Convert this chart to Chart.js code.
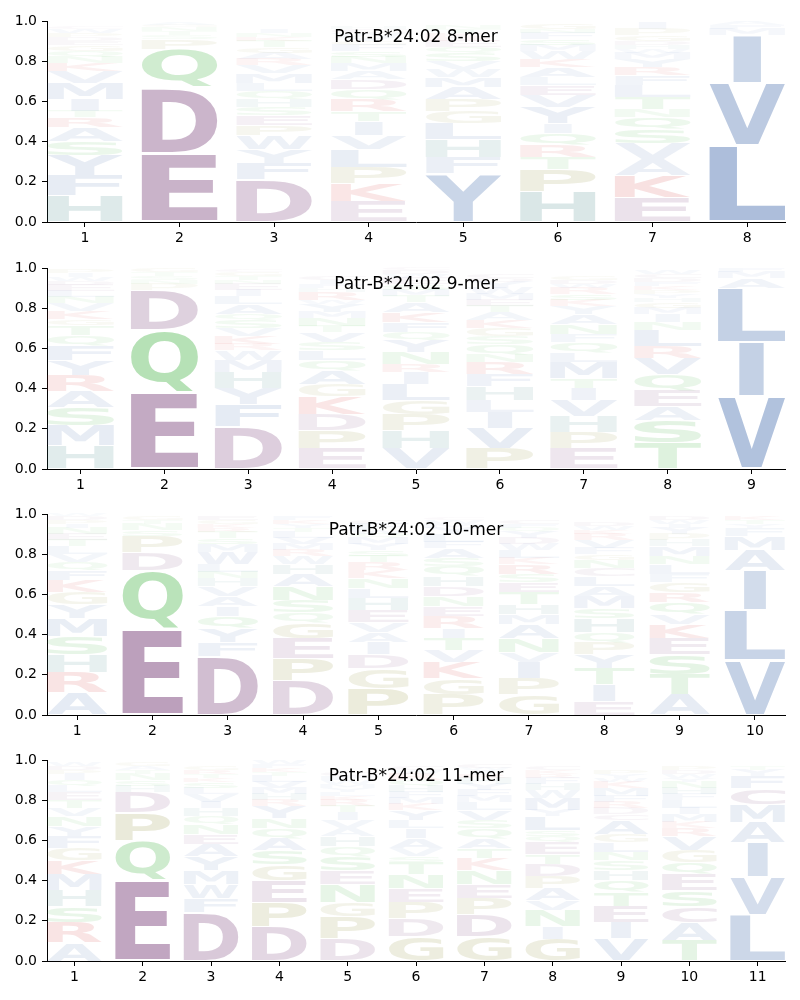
<!DOCTYPE html>
<html>
<head>
<meta charset="utf-8">
<script src="https://cdn.jsdelivr.net/npm/chart.js@4.4.1/dist/chart.umd.min.js"></script>
<style>
    body { margin: 0; background: #fff; }
    canvas { position: absolute; left: 0; }
</style>
</head>
<body>
<canvas id="logo8" width="800" height="246" style="top:0px"></canvas>
<canvas id="logo9" width="800" height="246" style="top:247px"></canvas>
<canvas id="logo10" width="800" height="246" style="top:493px"></canvas>
<canvas id="logo11" width="800" height="246" style="top:739px"></canvas>
<script>
// letter + percent, stacked bottom to top, one string per position
const titles = ['Patr-B*24:02 8-mer', 'Patr-B*24:02 9-mer', 'Patr-B*24:02 10-mer', 'Patr-B*24:02 11-mer'];
const yTicks = [0, 0.2, 0.4, 0.6, 0.8, 1.0];

const mer8 = [
    'H13 F10 Y10 S7 A7 R5 T3 I6 M8 V6 K4 N3 Q3 G3 E2 D2 P2 W2 C1',
    'E34 D33 Q19 P5 S2 T2 N2 G1 A1',
    'D21 F8 Y7 W7 P5 E5 S4 H4 Q4 L4 M5 V4 R3 A3 G3 T3 K2 N2 I2',
    'E10 K9 P8 L9 V7 I7 T5 R6 Q5 D5 A4 M4 N3 S3 F3 G2 Y2 W2 C2 H1',
    'Y24 F8 H9 L8 G6 P6 A6 M5 W4 V4 S4 Q3 E3 R2 K2 T2 N2',
    'H15 P11 T6 R6 Q6 I5 Y8 V6 E5 L4 A5 K4 W4 M3 S3 F3 N2 G3',
    'E12 K11 A8 V8 S7 Q6 N4 T6 L6 F5 R4 Y4 M3 W2 H2 D2 G3 P3 I3',
    'L38 V31 I24 M3 F2 A2'
];
const mer9 = [
    'H11.5 M10 S9 A8 R8 Y7.5 F7.5 Q5 T5 G3 K4 V4 N3 L3 E3 D2 W2 I2 P2',
    'E38 Q31 D20 P3 N2 S2 T2 G2',
    'D21 F11 Y8 H8 M6 W5 R3 K4 V4 S4 Q3 A5 L4 I3 E3 N2 T2 G2 C1',
    'E10 P9 D8 K9 G6 A7 Q5 L5 S4 V5 T3 N4 M3 Y4 W2 R4 H2 F2 I2 C2',
    'V10 H9 P8 G7 L8 I6 R4 N6 Y6 Q4 F5 K5 A5 T3 M3 S3 E3 W2 D2 C1',
    'P10 V10 I8 L6 H7 F6 R6 N4 Q5 S4 G4 K4 A4 T3 E3 M3 W3 Y3 D2 C2',
    'E10 P8 H8 V8 I6 T5 M8 L5 Q5 F4 N5 A5 Y4 K3 S3 R3 W2 D2 G2',
    'T13 S11 A7 E8 Q8 V8 R6 L8 N4 I4 M3 G3 H2 Y2 P2 K2 F2 D2 C2 W2',
    'V36 I27 L27 A5 M3 F2'
];
const mer10 = [
    'A11 R10 H9 S9 M9 Y7 G6 K6 F5 Q4 V4 L4 T3 E3 N3 I2 P2 D2 W1',
    'E43 Q29 D9 P8 S3 N3 T2 G2',
    'D29 F7 Y7 Q6 I5 A5 V5 H4 N3 L4 W6 M4 S3 T3 R2 K2 G2 E2',
    'D17 P11 E10 G8 Q5 S6 N7 A6 H5 W4 R3 M3 V3 L3 T2 Y2 K2 F2',
    'P13 G10 D7 I6 A5 V5 E6 H6 L5 N5 K4 R4 T3 S3 Y3 M3 Q2 W2 F3 C2',
    'P10 G8 K8 V6 T6 I5 R6 E5 N5 D5 H5 Q5 S4 A5 F3 L4 Y3 M2 W2 C1',
    'G10 P8 I8 V5 N7 A7 M5 H5 T6 E5 S4 R5 K3 L4 W3 D3 Y3 Q2 F2 C2',
    'E7 I8 T8 Y7 P6 Q5 H7 S5 M6 A5 L5 C4 N4 G3 F3 V4 R3 K2 W2 D2',
    'A10 T10 S10 E8 K7 V5 Q6 R5 G5 F4 L5 N4 M5 H3 P3 Y3 I2 W2 D2',
    'V27 L25 I20 A10 M7 F4 Y2 T2 K2'
];
const mer11 = [
    'A9 R10 S8 H8 M8 K7 G6 F6 Y5 N5 V4 T4 E4 L3 Q3 I3 P2 D2 W2',
    'E40 Q20 P14 D10 H3 S3 N3 T2 A2 G2',
    'D24 F7 W7 M7 Y7 A6 E5 N5 Q4 H4 I3 V4 L3 S3 K2 T2 R2 G2',
    'D17 P12 E11 G8 S7 A6 Q5 N5 Y6 R3 H3 M3 V3 L3 T2 K2 F2 W2',
    'D11 P11 G7 N9 E7 S7 Q5 H5 A4 V4 I4 T3 R3 K2 L2 Y2 M2 W2 F2 C2',
    'G12 D9 P8 E7 N7 T6 S3 V4 A5 I5 L4 Y5 K3 M3 F3 H3 Q3 R3 W2 C2',
    'G12 D11 P8 E7 N7 K6 T5 A5 Q5 S4 V5 L4 M3 F3 Y3 H3 R2 I2 W1 C2',
    'G11 I6 N8 V5 A6 P6 D6 T5 E6 Q3 S3 L7 Y3 M6 W4 H3 F3 R2 K2 C2',
    'V11 I8 E8 T7 Q6 H5 S5 N4 L5 G4 A7 C3 D3 R3 F3 M4 K3 W2 Y2 P2',
    'T10 A9 C8 S8 E8 Q6 G6 V7 R4 K3 M4 I3 L4 F3 H3 N3 Y2 W2 D2 P2',
    'L23 V19 I17 A10 M9 C8 F6 Y3 T2'
];

const colours = {
    blue: [76, 114, 176],
    purple: [125, 70, 125],
    green: [60, 175, 60],
    red: [210, 50, 50],
    teal: [60, 130, 130],
    olive: [140, 140, 50]
};
const groupOf = {
    A: 'blue', V: 'blue', L: 'blue', I: 'blue', M: 'blue', F: 'blue', W: 'blue', Y: 'blue',
    D: 'purple', E: 'purple', C: 'purple',
    N: 'green', Q: 'green', S: 'green', T: 'green',
    K: 'red', R: 'red', H: 'teal', P: 'olive', G: 'olive'
};
const letterFont = 'bold 200px "DejaVu Sans"';

function stackPoints(mer) {
    const pts = [];
    mer.forEach((col, i) => {
        let base = 0;
        col.split(' ').forEach(tok => {
            const h = parseFloat(tok.slice(1)) / 100;
            pts.push({ x: i + 1, y: base + h, base: base, h: h, letter: tok[0] });
            base += h;
        });
    });
    return pts;
}

const glyphs = {};
function glyphBox(ctx, ch) {
    if (!glyphs[ch]) {
        ctx.save();
        ctx.font = letterFont;
        ctx.textAlign = 'left';
        ctx.textBaseline = 'alphabetic';
        const m = ctx.measureText(ch);
        ctx.restore();
        glyphs[ch] = {
            left: m.actualBoundingBoxLeft,
            w: m.actualBoundingBoxLeft + m.actualBoundingBoxRight,
            asc: m.actualBoundingBoxAscent,
            h: m.actualBoundingBoxAscent + m.actualBoundingBoxDescent
        };
    }
    return glyphs[ch];
}

const logoPlugin = {
    id: 'logo',
    afterDatasetsDraw(chart, args, opts) {
        const { ctx, chartArea } = chart;
        const xs = chart.scales.x, ys = chart.scales.y;
        const wideE = glyphBox(ctx, 'E').w;
        chart.data.datasets[0].data.forEach(p => {
            const x0 = xs.getPixelForValue(p.x - 0.4);
            const x1 = xs.getPixelForValue(p.x + 0.4);
            const yb = ys.getPixelForValue(p.base + p.h * 0.025);
            const yt = ys.getPixelForValue(p.y - p.h * 0.025);
            const g = glyphBox(ctx, p.letter);
            // narrow letters are not stretched more than an E would be
            const sx = (x1 - x0) / Math.max(g.w, wideE);
            const off = (x1 - x0 - g.w * sx) / 2;
            const c = colours[groupOf[p.letter]];
            const a = Math.min(1, 0.02 + 1.15 * p.h);
            ctx.save();
            ctx.translate(x0 + off, yt);
            ctx.scale(sx, (yb - yt) / g.h);
            ctx.font = letterFont;
            ctx.textAlign = 'left';
            ctx.textBaseline = 'alphabetic';
            ctx.fillStyle = 'rgba(' + c[0] + ',' + c[1] + ',' + c[2] + ',' + a + ')';
            ctx.fillText(p.letter, g.left, g.asc);
            ctx.restore();
        });

        ctx.save();
        ctx.font = '17px "DejaVu Sans"';
        ctx.fillStyle = '#000';
        ctx.textAlign = 'center';
        ctx.textBaseline = 'alphabetic';
        ctx.fillText(opts.text, (chartArea.left + chartArea.right) / 2, chartArea.top + 21);
        ctx.restore();
    }
};

function drawLogo(id, mer, title) {
    const xLabels = mer.map((_, i) => i + 1);
    const tickFont = { family: 'DejaVu Sans', size: 14 };
    return new Chart(document.getElementById(id), {
        type: 'scatter',
        data: {
            datasets: [{ data: stackPoints(mer), pointRadius: 0, pointHoverRadius: 0 }]
        },
        options: {
            responsive: false,
            animation: false,
            events: [],
            layout: { padding: { top: 21, right: 15, left: 0, bottom: 0 } },
            plugins: {
                legend: { display: false },
                tooltip: { enabled: false },
                logo: { text: title }
            },
            scales: {
                x: {
                    type: 'linear',
                    min: 0.6,
                    max: mer.length + 0.4,
                    afterBuildTicks: s => { s.ticks = xLabels.map(v => ({ value: v })); },
                    afterFit: s => { s.height = 24; },
                    grid: { display: true, drawOnChartArea: false, drawTicks: true, tickLength: 5, color: '#000', lineWidth: 1 },
                    border: { display: true, color: '#000', width: 1 },
                    ticks: { color: '#000', font: tickFont, padding: 3, maxRotation: 0, autoSkip: false, callback: v => String(v) }
                },
                y: {
                    type: 'linear',
                    min: 0,
                    max: 1,
                    afterBuildTicks: s => { s.ticks = yTicks.map(v => ({ value: v })); },
                    afterFit: s => { s.width = 47; },
                    grid: { display: true, drawOnChartArea: false, drawTicks: true, tickLength: 5, color: '#000', lineWidth: 1 },
                    border: { display: true, color: '#000', width: 1 },
                    ticks: { color: '#000', font: tickFont, padding: 5, callback: v => v.toFixed(1) }
                }
            }
        },
        plugins: [logoPlugin]
    });
}

drawLogo('logo8', mer8, titles[0]);
drawLogo('logo9', mer9, titles[1]);
drawLogo('logo10', mer10, titles[2]);
drawLogo('logo11', mer11, titles[3]);
</script>
</body>
</html>
